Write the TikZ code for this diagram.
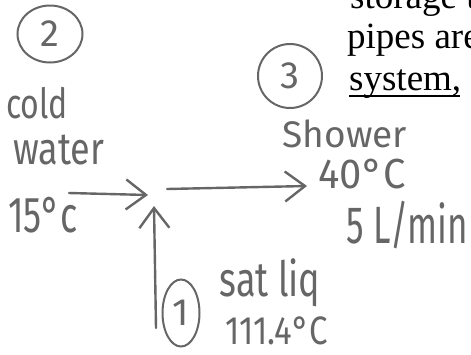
\documentclass[tikz,border=0pt]{standalone}
\usepackage{fontspec}
\usepackage{graphicx}
\setmainfont{Liberation Serif}
\newfontfamily\penfont{Fira Sans}
\usetikzlibrary{arrows.meta,shapes.geometric}
\definecolor{pen}{HTML}{666666}
% hand lettering: size, vertical stretch, text
\newcommand{\penword}[3]{\scalebox{1}[#2]{\penfont\fontsize{#1}{#1}\selectfont #3}}
\tikzset{
  pen/.style={draw=pen, line width=2.4pt, line cap=round, line join=round},
  flow/.style={pen, -{Straight Barb[length=20pt,width=30pt,line width=2.4pt]}},
  hand/.style={text=pen, inner sep=0pt},
  statecircle/.style={ellipse, draw=pen, line width=2pt, inner sep=0pt, text=pen, font=\penfont\fontsize{38}{38}\selectfont},
  printed/.style={anchor=base west, inner sep=0pt, font=\fontsize{37}{41}\selectfont}
}
\begin{document}
\begin{tikzpicture}[x=1pt, y=-1pt]
  \useasboundingbox (0,0) rectangle (471,354);
  \clip (0,0) rectangle (471,354);

  % printed text of the page
  \node[printed] (l1) at (350,8) {storage t};
  \node[printed] (l2) at (347,48) {pipes are};
  \node[printed] (l3) at (349,90) {system,};
  \draw[line width=1.6pt] (349,96) -- (460,96);

  % state numbers
  \node[statecircle, minimum width=65pt, minimum height=57pt] (s2) at (50,34) {2};
  \node[statecircle, minimum width=64pt, minimum height=64pt] (s3) at (290,76) {3};
  \node[statecircle, minimum width=37pt, minimum height=67pt] (s1) at (181,313) {1};

  % stream labels
  \node[hand] (cw1) at (37,103) {\penword{32}{1.3}{cold}};
  \node[hand] (cw2) at (59,150) {\penword{36}{1.25}{water}};
  \node[hand] (t2) at (43,215) {\penword{36}{1.4}{15°c}};
  \node[hand] (sh) at (345,134) {\penword{37}{1.0}{Shower}};
  \node[hand] (t3) at (362,174) {\penword{40}{1.05}{40°C}};
  \node[hand] (fr) at (407,225) {\penword{35}{1.5}{5 L/min}};
  \node[hand] (sl) at (270,283) {\penword{36}{1.35}{sat liq}};
  \node[hand] (t1) at (277,331) {\penword{33}{1.2}{111.4°C}};

  % mixing point and stream ends
  \coordinate (in2) at (69,193);
  \coordinate (mixL) at (148,195);
  \coordinate (mixB) at (154,206);
  \coordinate (mixR) at (167,189);
  \coordinate (in1) at (156,328);
  \coordinate (out3) at (307,186);

  % streams
  \draw[flow] (in2) -- (mixL);
  \draw[flow] (in1) -- (mixB);
  \draw[flow] (mixR) -- (out3);
\end{tikzpicture}
\end{document}
